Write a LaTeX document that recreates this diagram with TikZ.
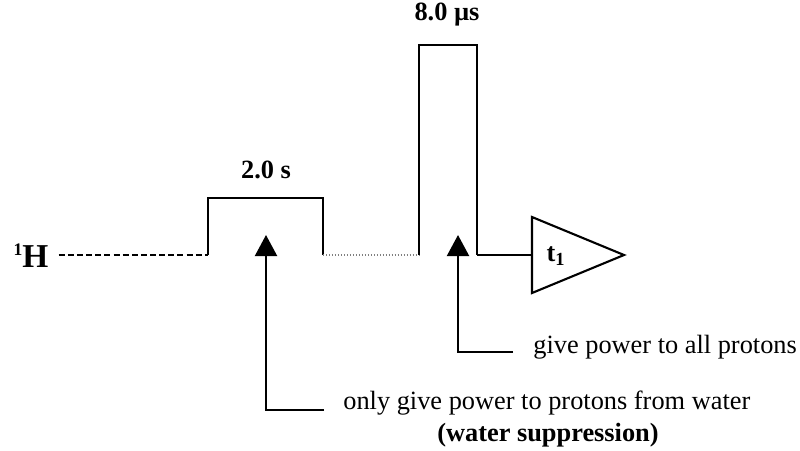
\documentclass[tikz,border=0pt]{standalone}
\usepackage{fontspec}
\setmainfont{Liberation Serif}
\usetikzlibrary{arrows.meta}

\begin{document}
\begin{tikzpicture}[
    x=0.02cm, y=-0.02cm,
    font=\fontsize{15}{18}\selectfont,
    >={Triangle[width=0.44cm,length=0.42cm]},
    txt/.style={inner sep=0pt},
    boldtxt/.style={
        inner sep=0pt,
        font=\fontsize{15}{18}\selectfont\bfseries
    },
    pulse/.style={
        line width=1.5pt,
        line join=miter
    },
    hardpulse/.style={
        line width=1.1pt,
        line join=miter
    },
    idle/.style={
        line width=1.3pt,
        dash pattern=on 3.4pt off 1.8pt
    },
    delay/.style={
        line width=0.7pt,
        gray,
        densely dotted
    },
    pointer/.style={
        ->,
        line width=1.2pt
    }
]
\useasboundingbox (0,0) rectangle (800,450);

% channel and timing labels
\node[txt, font=\fontsize{19}{20}\selectfont\bfseries, anchor=base] (nuc) at (31,267) {\raisebox{0.35em}{\fontsize{10}{10}\selectfont 1}H};
\node[boldtxt, anchor=base] (dur1) at (266,178) {2.0 s};
\node[boldtxt, anchor=base] (dur2) at (447,20) {8.0 µs};

% pulse sequence
\coordinate (p1a) at (208,255);
\coordinate (p1b) at (323,255);
\coordinate (p2a) at (419,255);
\coordinate (p2b) at (477,255);

\draw[idle] ([xshift=0.2cm]nuc.east |- p1a) -- (p1a);
\draw[pulse] (p1a) -- (208,198) -- (323,198) -- (p1b);
\draw[delay] (p1b) -- (p2a);
\draw[hardpulse] (p2a) -- (419,45) -- (477,45) -- (p2b);

% acquisition
\coordinate (acq) at (532,255);
\draw[hardpulse, line width=1.2pt] (532,217) -- (624,255) -- (532,293) -- cycle;
\node[boldtxt] (t1) at (556,256) {t\textsubscript{1}};
\draw[hardpulse, line width=1.2pt] (p2b) -- (acq);

% annotations
\coordinate (tip1) at (266,235);
\coordinate (tip2) at (458,235);

\node[txt, anchor=base west] (note1) at (343,409) {only give power to protons from water};
\node[boldtxt, anchor=base] (note1b) at (548,441) {(water suppression)};
\node[txt, anchor=base west] (note2) at (533,353) {give power to all protons};

\draw[pointer] ([xshift=-0.38cm,yshift=-0.02cm]note1.base west) -| (tip1);
\draw[pointer] ([xshift=-0.4cm,yshift=0.02cm]note2.base west) -| (tip2);

\end{tikzpicture}
\end{document}
